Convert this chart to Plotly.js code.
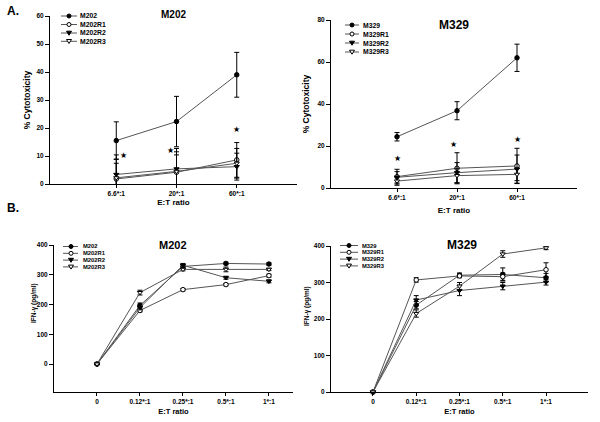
<!DOCTYPE html>
<html>
<head>
<meta charset="utf-8">
<script src="https://cdn.plot.ly/plotly-3.0.1.min.js"></script>
<style>html,body{margin:0;padding:0;background:#fff}#chart{width:600px;height:422px}</style>
</head>
<body>
<div id="chart"></div>
<script>
// ---------- DATA ----------
const cytoCats = ['6.6*:1', '20*:1', '60*:1'];
const ifnCats = ['0', '0.12*:1', '0.25*:1', '0.5*:1', '1*:1'];

const m202Names = ['M202', 'M202R1', 'M202R2', 'M202R3'];
const m329Names = ['M329', 'M329R1', 'M329R2', 'M329R3'];

// Panel A: % cytotoxicity
const m202Cyto = [15.5, 22.3, 39];     const m202CytoErr = [6.7, 9, 8];
const m202r1Cyto = [1.8, 4.2, 8.6];    const m202r1CytoErr = [7.1, 6.2, 6.2];
const m202r2Cyto = [3.4, 5.4, 6.2];    const m202r2CytoErr = [7, 7.3, 4.8];
const m202r3Cyto = [2.2, 4.5, 7.4];    const m202r3CytoErr = [5.2, 7, 5.3];

const m329Cyto = [24.4, 36.8, 62];     const m329CytoErr = [2, 4.3, 6.5];
const m329r1Cyto = [5.4, 9.4, 10.5];   const m329r1CytoErr = [3.5, 7.4, 8.4];
const m329r2Cyto = [5.1, 7.3, 9];      const m329r2CytoErr = [2.7, 4.8, 6.7];
const m329r3Cyto = [3.3, 5.9, 6.5];    const m329r3CytoErr = [2, 3.5, 3];

const m202StarY = [10, 11.8, 19.3];
const m329StarY = [14.1, 20.5, 22.9];

// Panel B: IFN-gamma (pg/ml)
const m202Ifn = [0, 197, 328, 338, 336];   const m202IfnErr = [0, 8, 5, 4, 4];
const m202r1Ifn = [0, 180, 250, 267, 297]; const m202r1IfnErr = [0, 5, 4, 4, 5];
const m202r2Ifn = [0, 190, 332, 290, 278]; const m202r2IfnErr = [0, 8, 6, 5, 5];
const m202r3Ifn = [0, 240, 318, 318, 318]; const m202r3IfnErr = [0, 8, 5, 8, 4];

const m329Ifn = [0, 238, 320, 322, 313];   const m329IfnErr = [0, 10, 6, 18, 12];
const m329r1Ifn = [0, 307, 318, 316, 335]; const m329r1IfnErr = [0, 6, 5, 10, 19];
const m329r2Ifn = [0, 252, 278, 290, 301]; const m329r2IfnErr = [0, 12, 14, 10, 8];
const m329r3Ifn = [0, 215, 290, 378, 395]; const m329r3IfnErr = [0, 10, 10, 9, 5];

// ---------- STYLE ----------
const W = 600, H = 422;
const FONT = 'Liberation Sans, Arial, sans-serif';
const px = x => x / W;
const py = y => 1 - y / H;
const symbols = ['circle', 'circle-open', 'triangle-down', 'triangle-down-open'];
const lineCol = '#555';

function series(name, cats, y, err, idx, xa, ya) {
  const open = symbols[idx].endsWith('open');
  return {
    type: 'scatter', mode: 'lines+markers', name: name,
    x: cats, y: y, xaxis: xa, yaxis: ya, showlegend: false, cliponaxis: false,
    line: {color: lineCol, width: 1},
    marker: {symbol: open ? symbols[idx].replace('-open', '') : symbols[idx], size: 4.5,
             color: open ? '#fff' : '#000', line: {color: '#000', width: 1}},
    error_y: {type: 'data', array: err, visible: true, color: '#000', thickness: 1, width: 2.5}
  };
}

const traces = [
  series(m202Names[0], cytoCats, m202Cyto, m202CytoErr, 0, 'x', 'y'),
  series(m202Names[1], cytoCats, m202r1Cyto, m202r1CytoErr, 1, 'x', 'y'),
  series(m202Names[2], cytoCats, m202r2Cyto, m202r2CytoErr, 2, 'x', 'y'),
  series(m202Names[3], cytoCats, m202r3Cyto, m202r3CytoErr, 3, 'x', 'y'),
  series(m329Names[0], cytoCats, m329Cyto, m329CytoErr, 0, 'x2', 'y2'),
  series(m329Names[1], cytoCats, m329r1Cyto, m329r1CytoErr, 1, 'x2', 'y2'),
  series(m329Names[2], cytoCats, m329r2Cyto, m329r2CytoErr, 2, 'x2', 'y2'),
  series(m329Names[3], cytoCats, m329r3Cyto, m329r3CytoErr, 3, 'x2', 'y2'),
  series(m202Names[0], ifnCats, m202Ifn, m202IfnErr, 0, 'x3', 'y3'),
  series(m202Names[1], ifnCats, m202r1Ifn, m202r1IfnErr, 1, 'x3', 'y3'),
  series(m202Names[2], ifnCats, m202r2Ifn, m202r2IfnErr, 2, 'x3', 'y3'),
  series(m202Names[3], ifnCats, m202r3Ifn, m202r3IfnErr, 3, 'x3', 'y3'),
  series(m329Names[0], ifnCats, m329Ifn, m329IfnErr, 0, 'x4', 'y4'),
  series(m329Names[1], ifnCats, m329r1Ifn, m329r1IfnErr, 1, 'x4', 'y4'),
  series(m329Names[2], ifnCats, m329r2Ifn, m329r2IfnErr, 2, 'x4', 'y4'),
  series(m329Names[3], ifnCats, m329r3Ifn, m329r3IfnErr, 3, 'x4', 'y4')
];

function xAxis(dom, range, anchor, title, standoff, tsize) {
  return {
    type: 'category', categoryorder: 'array', domain: dom, range: range, anchor: anchor,
    showline: true, linecolor: '#000', linewidth: 1, showgrid: false, zeroline: false,
    ticks: 'outside', ticklen: 3, tickcolor: '#000', tickwidth: 1,
    tickfont: {family: FONT, size: 6.5, color: '#000', weight: 'bold'},
    title: {text: title, standoff: standoff, font: {family: FONT, size: tsize, color: '#000', weight: 'bold'}},
    fixedrange: true
  };
}
function yAxis(dom, range, anchor, dtick, title, standoff) {
  return {
    domain: dom, range: range, anchor: anchor, dtick: dtick, tick0: 0,
    showline: true, linecolor: '#000', linewidth: 1, showgrid: false, zeroline: false,
    ticks: 'outside', ticklen: 4, tickcolor: '#000', tickwidth: 1,
    tickfont: {family: FONT, size: 6.5, color: '#000', weight: 'bold'},
    title: {text: title, standoff: standoff, font: {family: FONT, size: 8.5, color: '#000', weight: 'bold'}},
    fixedrange: true
  };
}

const layout = {
  width: W, height: H, margin: {l: 0, r: 0, t: 0, b: 0},
  paper_bgcolor: '#fff', plot_bgcolor: 'rgba(0,0,0,0)', showlegend: false,
  font: {family: FONT, color: '#000'},
  xaxis: xAxis([px(50), px(297)], [-1.1, 3.0], 'y', 'E:T ratio', 3, 8),
  yaxis: yAxis([py(184), py(16)], [0, 60], 'x', 10, '% Cytotoxicity', 4),
  xaxis2: xAxis([px(331), px(577)], [-1.1, 3.0], 'y2', 'E:T ratio', 7, 8),
  yaxis2: yAxis([py(188), py(20)], [0, 80], 'x2', 20, '% Cytotoxicity', 6),
  xaxis3: xAxis([px(54), px(293)], [-1.0, 4.56], 'y3', 'E:T ratio', 4, 7.5),
  yaxis3: yAxis([py(392), py(245)], [-94, 400], 'x3', 100, '', 0),
  xaxis4: xAxis([px(331), px(588)], [-0.97, 4.97], 'y4', 'E:T ratio', 4, 7.5),
  yaxis4: yAxis([py(392), py(246)], [0, 400], 'x4', 100, '', 0),
  shapes: [], annotations: []
};
layout.xaxis.categoryarray = cytoCats;
layout.xaxis2.categoryarray = cytoCats;
layout.xaxis3.categoryarray = ifnCats;
layout.xaxis4.categoryarray = ifnCats;
layout.yaxis3.tickvals = [0, 100, 200, 300, 400];

function text(t, x, y, size, opts) {
  layout.annotations.push(Object.assign({
    text: t, x: px(x), y: py(y), xref: 'paper', yref: 'paper', showarrow: false,
    xanchor: 'center', yanchor: 'middle', borderpad: 0,
    font: {family: FONT, size: size, color: '#000', weight: 'bold'}
  }, opts || {}));
}

// Panel labels and titles
text('A.', 13, 11, 12);
text('B.', 13, 208, 12);
text('M202', 173, 15, 10);
text('M329', 454, 25, 12);
text('M202', 173, 245, 11);
text('M329', 462, 245, 12);
text('IFN-γ (pg/ml)', 34, 303, 6.5, {textangle: -90});
text('IFN-γ (pg/ml)', 307, 306, 6.5, {textangle: -90});

// Legends (drawn as layout decorations)
function legend(names, x0, x1, xm, xt, ys, fsize) {
  names.forEach((n, i) => {
    const y = ys[i];
    layout.shapes.push({type: 'line', xref: 'paper', yref: 'paper',
      x0: px(x0), x1: px(x1), y0: py(y), y1: py(y), line: {color: lineCol, width: 1}});
    const open = i % 2 === 1;
    const fill = open ? '#fff' : '#000';
    if (i < 2) {
      layout.shapes.push({type: 'circle', xref: 'paper', yref: 'paper',
        x0: px(xm - 2), x1: px(xm + 2), y0: py(y + 2), y1: py(y - 2),
        fillcolor: fill, line: {color: '#000', width: 1}});
    } else {
      const p = 'M' + px(xm - 2.5) + ',' + py(y - 1.8) + ' L' + px(xm + 2.5) + ',' + py(y - 1.8) +
                ' L' + px(xm) + ',' + py(y + 2.2) + ' Z';
      layout.shapes.push({type: 'path', xref: 'paper', yref: 'paper', path: p,
        fillcolor: fill, line: {color: '#000', width: 1}});
    }
    text(n, xt, y, fsize, {xanchor: 'left'});
  });
}
legend(m202Names, 61, 77, 69, 79, [16, 24.5, 33, 41.3], 6.8);
legend(m329Names, 345, 359, 352, 362, [25, 34, 43, 52], 6.8);
legend(m202Names, 63, 78, 71, 82, [246.5, 253.3, 260.1, 266.9], 5.8);
legend(m329Names, 340, 358, 349, 361, [245.5, 252.3, 259.1, 265.9], 5.8);

// Significance stars
const m202StarShift = [7, -6, 0];
const m329StarShift = [0, -4, 0];
cytoCats.forEach((c, i) => {
  layout.annotations.push({text: '★', x: c, y: m202StarY[i], xref: 'x', yref: 'y', showarrow: false,
    xshift: m202StarShift[i], font: {family: 'DejaVu Sans', size: 8, color: '#000'}});
  layout.annotations.push({text: '★', x: c, y: m329StarY[i], xref: 'x2', yref: 'y2', showarrow: false,
    xshift: m329StarShift[i], font: {family: 'DejaVu Sans', size: 8, color: '#000'}});
});

Plotly.newPlot('chart', traces, layout, {displayModeBar: false, staticPlot: true});
</script>
</body>
</html>
